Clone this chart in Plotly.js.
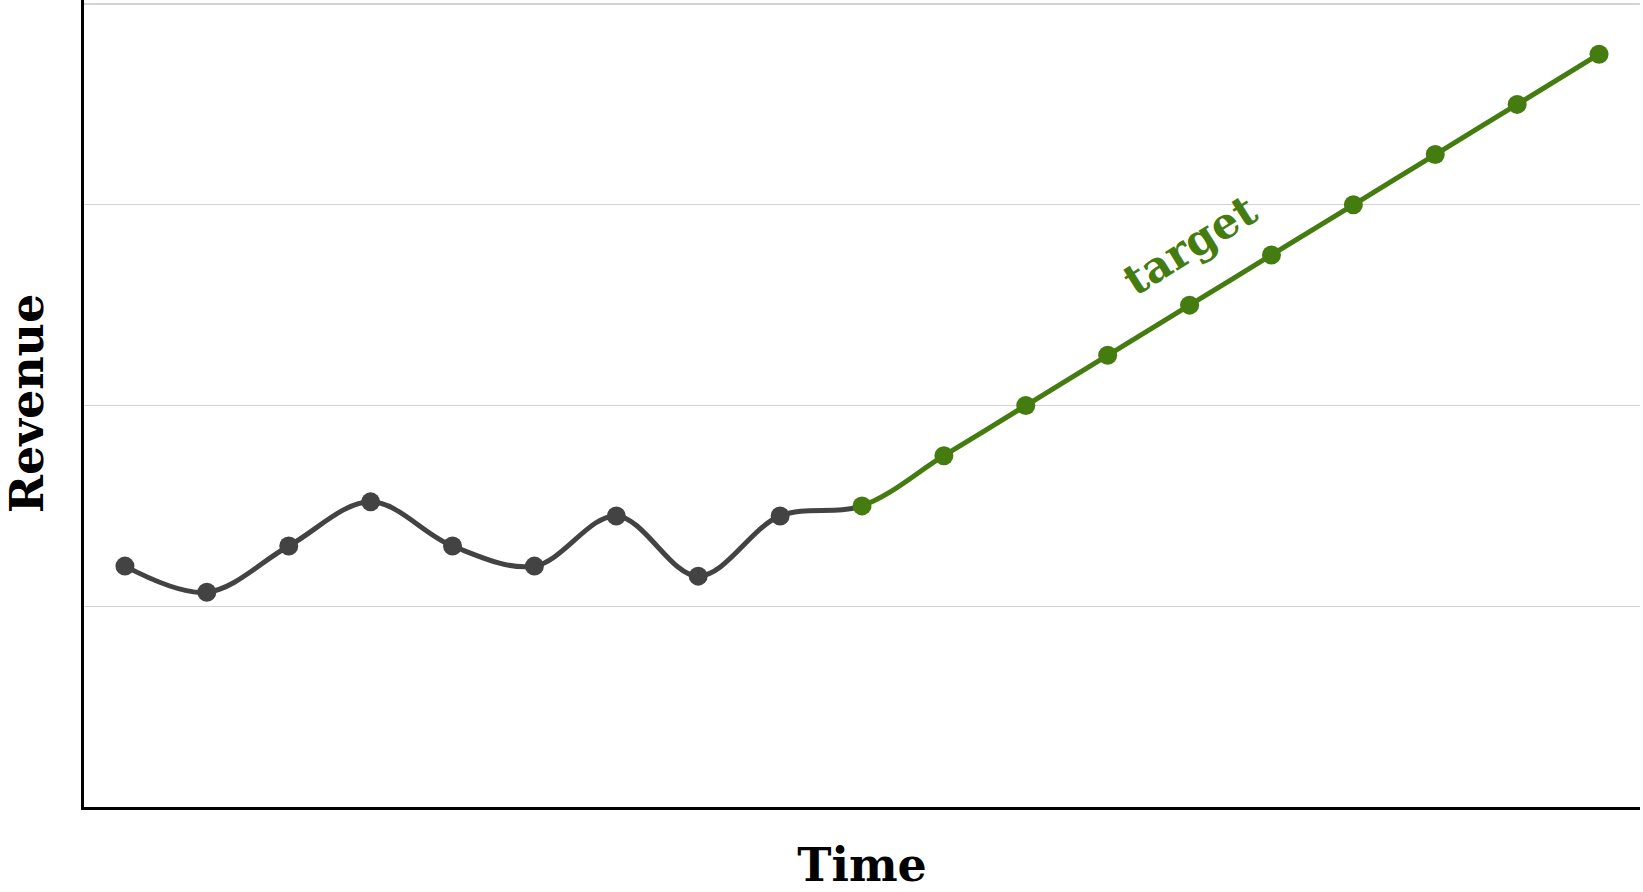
<!DOCTYPE html>
<html>
<head>
<meta charset="utf-8">
<script src="https://cdn.plot.ly/plotly-3.0.1.min.js"></script>
<style>html,body{margin:0;padding:0;background:#fff;}#chart{width:1643px;height:892px;}</style>
</head>
<body>
<div id="chart"></div>
<script>
// Data
const actualX = [0, 1, 2, 3, 4, 5, 6, 7, 8, 9];
const actualY = [1.2, 1.07, 1.3, 1.52, 1.3, 1.2, 1.45, 1.15, 1.45, 1.5];
const targetX = [9, 10, 11, 12, 13, 14, 15, 16, 17, 18];
const targetY = [1.5, 1.75, 2.0, 2.25, 2.5, 2.75, 3.0, 3.25, 3.5, 3.75];
const xTitle = "Time";
const yTitle = "Revenue";
const targetLabel = "target";

// One continuous series; its spline is coloured gray up to the split and green after it
const fullX = actualX.concat(targetX.slice(1));
const fullY = actualY.concat(targetY.slice(1));
const splitX = targetX[0];
const xMin = -0.5, xMax = 18.5;
const splitFrac = (splitX - xMin) / (xMax - xMin);

const font = "DejaVu Serif, Liberation Serif, serif";
const gray = "#434343";
const green = "#457c10";
const lineW = 5, markerS = 19;

const traces = [
  {x: fullX, y: fullY, xaxis: "x2", yaxis: "y", type: "scatter", mode: "lines",
   line: {color: gray, width: lineW, shape: "spline", smoothing: 1}, hoverinfo: "skip"},
  {x: actualX.slice(0, -1), y: actualY.slice(0, -1), xaxis: "x2", yaxis: "y", type: "scatter", mode: "markers",
   cliponaxis: false, marker: {color: gray, size: markerS}, hoverinfo: "skip"},
  {x: fullX, y: fullY, xaxis: "x3", yaxis: "y", type: "scatter", mode: "lines",
   line: {color: green, width: lineW, shape: "spline", smoothing: 1}, hoverinfo: "skip"},
  {x: targetX, y: targetY, xaxis: "x3", yaxis: "y", type: "scatter", mode: "markers",
   cliponaxis: false, marker: {color: green, size: markerS}, hoverinfo: "skip"}
];

const hiddenAxis = {visible: false, showgrid: false, zeroline: false, fixedrange: true};

const layout = {
  width: 1643, height: 892,
  margin: {l: 84, r: 3, t: 0, b: 85},
  paper_bgcolor: "#fff", plot_bgcolor: "rgba(0,0,0,0)",
  showlegend: false,
  font: {family: font, color: "#000"},
  xaxis: {
    domain: [0, 1], range: [xMin, xMax], showgrid: false, zeroline: false,
    showticklabels: false, ticks: "",
    showline: true, linecolor: "#000", linewidth: 3.3,
    title: {text: "<b>" + xTitle + "</b>", font: {family: font, size: 46, color: "#000"}, standoff: 40}
  },
  xaxis2: Object.assign({domain: [0, splitFrac], range: [xMin, splitX], anchor: "y"}, hiddenAxis),
  xaxis3: Object.assign({domain: [splitFrac, 1], range: [splitX, xMax], anchor: "y"}, hiddenAxis),
  yaxis: {
    anchor: "x", range: [0, 4.02], dtick: 1, showgrid: true, gridcolor: "#d2d2d8", gridwidth: 1.2,
    zeroline: false, showticklabels: false, ticks: "",
    showline: true, linecolor: "#000", linewidth: 3.3,
    title: {text: "<b>" + yTitle + "</b>", font: {family: font, size: 46, color: "#000"}, standoff: 28}
  },
  annotations: [{
    x: 13, y: 2.8, xref: "x", yref: "y", text: "<b>" + targetLabel + "</b>", showarrow: false,
    textangle: -32, font: {family: font, size: 43, color: green}
  }]
};

Plotly.newPlot("chart", traces, layout, {staticPlot: true, displayModeBar: false});
</script>
</body>
</html>
